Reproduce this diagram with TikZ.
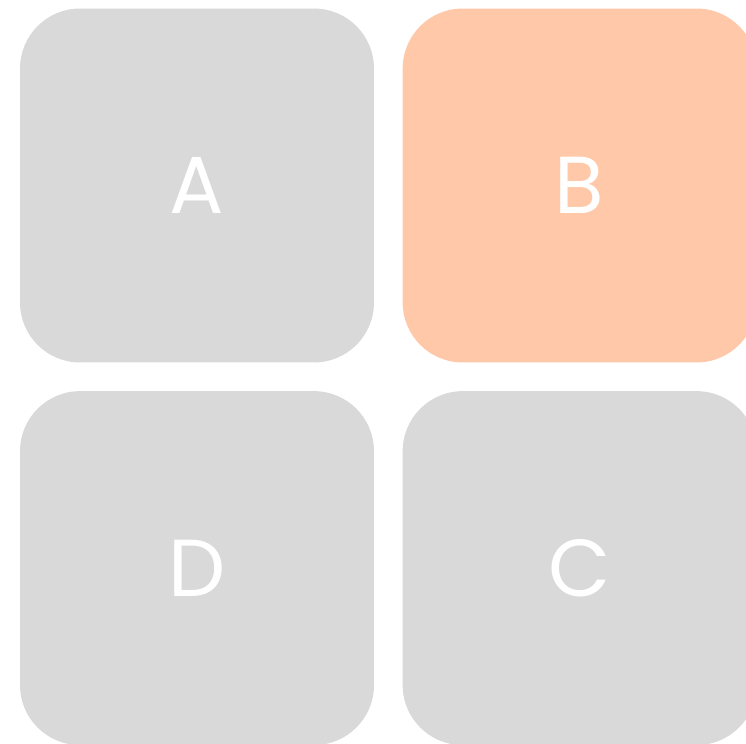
\documentclass[tikz,border=0pt]{standalone}
\usepackage{fontspec}
\setmainfont{Poppins}
\usetikzlibrary{positioning}

\definecolor{tilegray}{HTML}{D9D9D9}
\definecolor{tilepeach}{HTML}{FFC8A8}

\begin{document}
\begin{tikzpicture}[x=0.02cm,y=-0.02cm,
  tile/.style={rectangle,rounded corners=1.2cm,fill=tilegray,draw=none,
    minimum width=7.08cm,minimum height=7.08cm,inner sep=0pt,
    text=white,font=\fontsize{46}{55}\selectfont},
  picked/.style={tile,fill=tilepeach}]

\clip (0,0) rectangle (746,743);
\useasboundingbox (0,0) rectangle (746,743);
\fill[white] (0,0) rectangle (746,743);

\node[tile] (A) at (197,185.5) {A};
\node[picked, right=0.56cm of A] (B) {B};
\node[tile, below=0.56cm of A] (D) {D};
\node[tile, below=0.56cm of B] (C) {C};

\end{tikzpicture}
\end{document}
